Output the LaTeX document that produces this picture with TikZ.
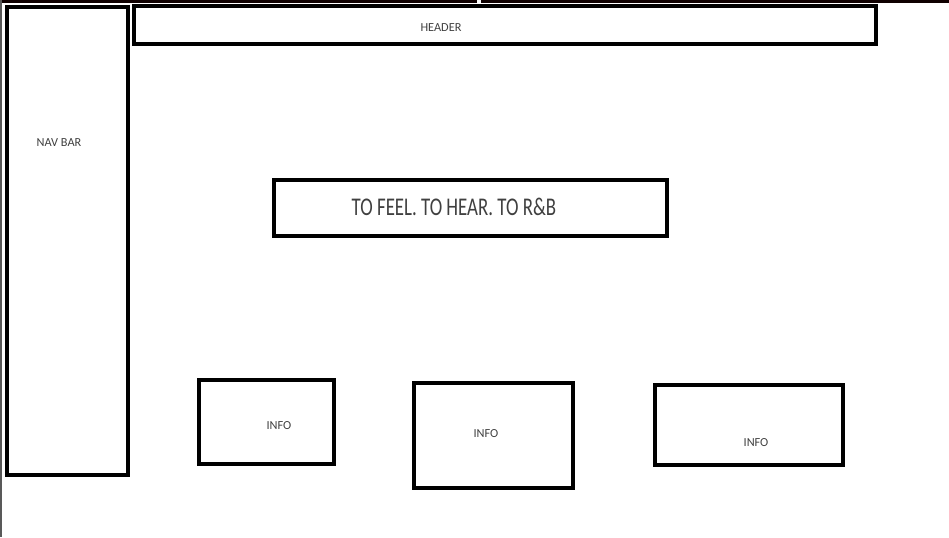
\documentclass[tikz,border=0pt]{standalone}
\usepackage{fontspec}
\setmainfont{Carlito}
\newfontfamily\narrowfont[FakeStretch=0.74]{Carlito}

\begin{document}
\begin{tikzpicture}[x=0.02cm, y=-0.02cm, every node/.style={font=\fontsize{7}{8}\selectfont, text=black!75},
	box/.style={line width=2.3pt, black}]
	\useasboundingbox (0,0) rectangle (949,537);
	% window edges
	\fill[black!85!red!40!black] (0,0) rectangle (949,3);
	\fill[white] (477,0) rectangle (481,3);
	\fill[black!65] (0,0) rectangle (1.5,537);
	% boxes
	\draw[box] (7,7) rectangle (128,475);
	\draw[box] (134,6) rectangle (876,44);
	\draw[box] (274,180) rectangle (667,236);
	\draw[box] (199,380) rectangle (334,464);
	\draw[box] (414,383) rectangle (573,488);
	\draw[box] (655,385) rectangle (843,465);
	% labels
	\node (navbar) at (59,143) {NAV BAR};
	\node (header) at (441,28) {HEADER};
	\node[font=\narrowfont\fontsize{14.5}{16}\selectfont] (title) at (454,207) {TO FEEL. TO HEAR. TO R\&B};
	\node (infoA) at (279,426) {INFO};
	\node (infoB) at (486,434) {INFO};
	\node (infoC) at (756,443) {INFO};
\end{tikzpicture}
\end{document}
